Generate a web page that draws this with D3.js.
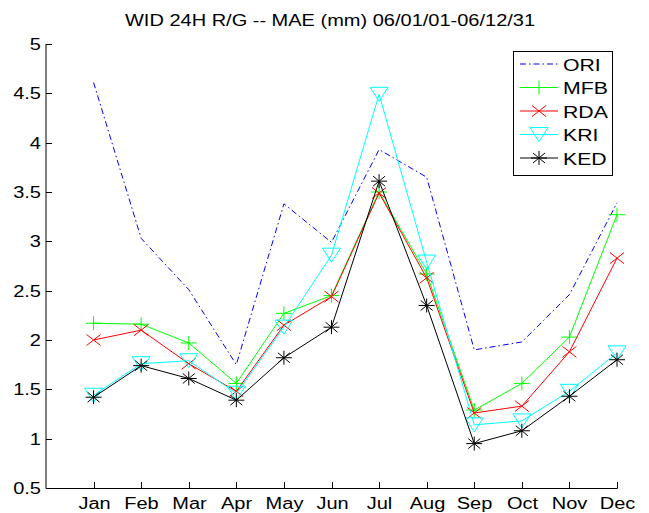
<!DOCTYPE html>
<html><head><meta charset="utf-8">
<script src="https://cdn.jsdelivr.net/npm/d3@7/dist/d3.min.js"></script>
<style>body{margin:0;background:#fff}svg{display:block}text{font-family:"Liberation Sans",Arial,sans-serif;fill:#000}</style>
</head><body><svg id="c" width="649" height="513"></svg>
<script>
const months = ["Jan","Feb","Mar","Apr","May","Jun","Jul","Aug","Sep","Oct","Nov","Dec"];
const yTicks = [0.5,1,1.5,2,2.5,3,3.5,4,4.5,5];
const ORI = [4.61,3.03,2.51,1.75,3.38,2.99,3.93,3.65,1.90,1.98,2.46,3.39];
const MFB = [2.17,2.16,1.97,1.56,2.27,2.45,3.50,2.67,1.29,1.56,2.03,3.27];
const RDA = [2.00,2.10,1.76,1.48,2.15,2.44,3.49,2.63,1.26,1.33,1.88,2.83];
const KRI = [1.44,1.76,1.79,1.46,2.13,2.86,4.49,2.79,1.14,1.18,1.48,1.87];
const KED = [1.42,1.74,1.61,1.39,1.82,2.13,3.61,2.35,0.95,1.08,1.43,1.80];
const seriesNames = ["ORI","MFB","RDA","KRI","KED"];
const title = "WID 24H R/G -- MAE (mm) 06/01/01-06/12/31";

const series = [
  {name:"ORI", values:ORI, color:"#0000ff", dash:"6,3,1.5,3", marker:null},
  {name:"MFB", values:MFB, color:"#00ff00", dash:null, marker:"plus"},
  {name:"RDA", values:RDA, color:"#ff0000", dash:null, marker:"x"},
  {name:"KRI", values:KRI, color:"#00ffff", dash:null, marker:"tri"},
  {name:"KED", values:KED, color:"#000000", dash:null, marker:"star"}
];

const svg = d3.select("#c");
const L=46, R=617, T=44, B=488;
const x = d3.scaleLinear().domain([0,12]).range([L,R]);
const y = d3.scaleLinear().domain([0.5,5]).range([B,T]);
const SX = 1.25;

// axes
svg.append("line").attr("x1",L).attr("x2",L).attr("y1",T).attr("y2",B+0.5).attr("stroke","#000");
svg.append("line").attr("x1",L).attr("x2",R+0.5).attr("y1",B+0.5).attr("y2",B+0.5).attr("stroke","#000");
yTicks.forEach(v=>{
  const yy = Math.round(y(v))+0.5;
  svg.append("line").attr("x1",L).attr("x2",L+6).attr("y1",yy).attr("y2",yy).attr("stroke","#000");
  svg.append("text").attr("transform",`translate(${L-5},${yy+5.5}) scale(${SX},1)`)
    .attr("text-anchor","end").attr("font-size",16).text(String(v));
});
months.forEach((m,i)=>{
  const xx = Math.round(x(i+1))+0.5;
  svg.append("line").attr("x1",xx).attr("x2",xx).attr("y1",B+0.5).attr("y2",B-6).attr("stroke","#000");
  svg.append("text").attr("transform",`translate(${xx},509) scale(${SX},1)`)
    .attr("text-anchor","middle").attr("font-size",16).text(m);
});
svg.append("text").attr("transform",`translate(330,26) scale(${SX},1)`)
  .attr("text-anchor","middle").attr("font-size",16).text(title);

function drawMarker(g, type, cx, cy, color){
  const p = d3.path();
  if(type==="plus"){
    p.moveTo(cx-8,cy); p.lineTo(cx+8,cy); p.moveTo(cx,cy-7); p.lineTo(cx,cy+7);
  } else if(type==="x"){
    p.moveTo(cx-7,cy-5.5); p.lineTo(cx+7,cy+5.5); p.moveTo(cx-7,cy+5.5); p.lineTo(cx+7,cy-5.5);
  } else if(type==="tri"){
    p.moveTo(cx-9,cy-7); p.lineTo(cx+9,cy-7); p.lineTo(cx,cy+7); p.closePath();
  } else if(type==="star"){
    p.moveTo(cx-8,cy); p.lineTo(cx+8,cy); p.moveTo(cx,cy-7); p.lineTo(cx,cy+7);
    p.moveTo(cx-6,cy-5); p.lineTo(cx+6,cy+5); p.moveTo(cx-6,cy+5); p.lineTo(cx+6,cy-5);
  }
  g.append("path").attr("d",p.toString()).attr("fill","none").attr("stroke",color).attr("stroke-width",1);
}

const line = d3.line().x((d,i)=>x(i+1)).y(d=>y(d));
series.forEach(s=>{
  const g = svg.append("g");
  const pth = g.append("path").attr("d",line(s.values)).attr("fill","none")
    .attr("stroke",s.color).attr("stroke-width",1);
  if(s.dash) pth.attr("stroke-dasharray",s.dash);
  if(s.marker) s.values.forEach((v,i)=>drawMarker(g,s.marker,x(i+1),y(v),s.color));
});

// legend
const lg = svg.append("g");
lg.append("rect").attr("x",513.5).attr("y",51.5).attr("width",99).attr("height",124)
  .attr("fill","#fff").attr("stroke","#000");
series.forEach((s,i)=>{
  const yy = 64 + i*23.5;
  const l = lg.append("line").attr("x1",520).attr("x2",558).attr("y1",yy).attr("y2",yy)
    .attr("stroke",s.color).attr("stroke-width",1);
  if(s.dash) l.attr("stroke-dasharray",s.dash);
  if(s.marker) drawMarker(lg,s.marker,539,yy,s.color);
  lg.append("text").attr("transform",`translate(563,${yy+6.5}) scale(${SX},1)`)
    .attr("font-size",17).text(seriesNames[i]);
});
</script></body></html>
